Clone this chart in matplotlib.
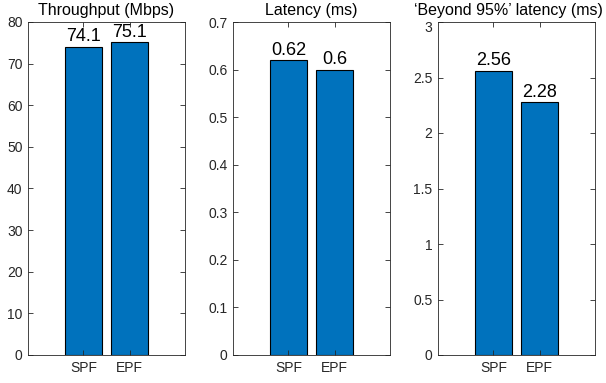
import matplotlib
matplotlib.use("Agg")
import matplotlib.pyplot as plt
import matplotlib.transforms as mtransforms

plt.rcParams['font.family'] = ['Liberation Sans', 'DejaVu Sans']

categories = ["SPF", "EPF"]
throughput = [74.1, 75.1]
latency = [0.62, 0.60]
beyond95 = [2.56, 2.28]
value_labels = [["74.1", "75.1"], ["0.62", "0.6"], ["2.56", "2.28"]]
titles = ["Throughput (Mbps)", "Latency (ms)", "\u2018Beyond 95%\u2019 latency (ms)"]
yticks = [[0, 10, 20, 30, 40, 50, 60, 70, 80],
          [0, 0.1, 0.2, 0.3, 0.4, 0.5, 0.6, 0.7],
          [0, 0.5, 1, 1.5, 2, 2.5, 3]]
ytick_labels = [["0", "10", "20", "30", "40", "50", "60", "70", "80"],
                ["0", "0.1", "0.2", "0.3", "0.4", "0.5", "0.6", "0.7"],
                ["0", "0.5", "1", "1.5", "2", "2.5", "3"]]
series = [throughput, latency, beyond95]

fig = plt.figure(figsize=(6.06, 3.83), dpi=100)
lefts = [28/606, 233/606, 438/606]
width = 157/606
bottom = 28/383
height = 333/383
bar_color = "#0072BD"
txt_color = "#262626"
title_x = [0.5, 0.5, 0.45]

for i in range(3):
    ax = fig.add_axes([lefts[i], bottom, width, height])
    x = [1, 2]
    ax.bar(x, series[i], width=0.8, color=bar_color, edgecolor="black", linewidth=0.8)
    ax.set_xlim(-0.2, 3.2)
    ax.set_ylim(yticks[i][0], yticks[i][-1])
    ax.set_yticks(yticks[i])
    ax.set_yticklabels(ytick_labels[i])
    ax.set_xticks(x)
    ax.set_xticklabels(categories)
    ax.tick_params(direction="in", length=3.5, width=0.6, top=True, right=True,
                   labelsize=10, colors=txt_color, labelcolor=txt_color, pad=4)
    for s in ax.spines.values():
        s.set_linewidth(0.6)
        s.set_color(txt_color)
    ax.set_title(titles[i], fontsize=11.5, color="black", pad=5, x=title_x[i])
    for xi, v, lab in zip(x, series[i], value_labels[i]):
        ax.annotate(lab, (xi, v), xytext=(0, 1), textcoords="offset points",
                    ha="center", va="bottom", fontsize=13, color="black")
    if i == 2:
        top_lab = ax.get_yticklabels()[-1]
        off = mtransforms.ScaledTranslation(0, -4/100, fig.dpi_scale_trans)
        top_lab.set_transform(top_lab.get_transform() + off)

fig.savefig("out.png", dpi=100)
